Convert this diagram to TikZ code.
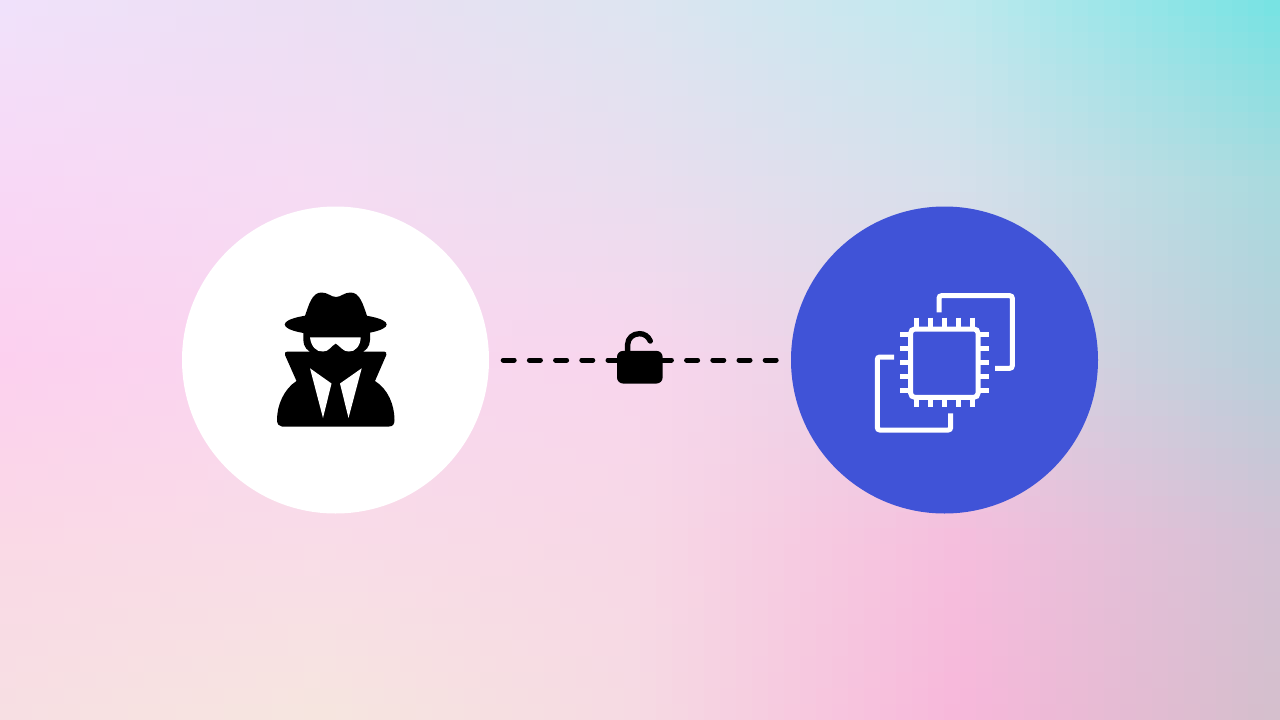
\documentclass[tikz,border=0pt]{standalone}
\usetikzlibrary{positioning}

% Background colours, sampled every 320 x 180 (column, row)
\definecolor{bg00}{HTML}{F0E2FB}
\definecolor{bg10}{HTML}{EBDFF3}
\definecolor{bg20}{HTML}{DDE5F1}
\definecolor{bg30}{HTML}{BEE9EE}
\definecolor{bg40}{HTML}{74E3E3}
\definecolor{bg01}{HTML}{F8D8F6}
\definecolor{bg11}{HTML}{F5DCF3}
\definecolor{bg21}{HTML}{E9DEEF}
\definecolor{bg31}{HTML}{D5E0EB}
\definecolor{bg41}{HTML}{A8DADE}
\definecolor{bg02}{HTML}{FCD0EF}
\definecolor{bg12}{HTML}{F9D7F0}
\definecolor{bg22}{HTML}{F8D6ED}
\definecolor{bg32}{HTML}{E3D2E3}
\definecolor{bg42}{HTML}{B8CFDA}
\definecolor{bg03}{HTML}{FAD9E6}
\definecolor{bg13}{HTML}{F9DCE8}
\definecolor{bg23}{HTML}{F7D8E6}
\definecolor{bg33}{HTML}{F5BEDD}
\definecolor{bg43}{HTML}{D3C1D4}
\definecolor{bg04}{HTML}{F7DFE3}
\definecolor{bg14}{HTML}{F6E6DF}
\definecolor{bg24}{HTML}{F6DAE3}
\definecolor{bg34}{HTML}{F7B7DA}
\definecolor{bg44}{HTML}{D4BFCC}
\definecolor{instanceblue}{HTML}{4053D7}

\tikzset{
	party/.style={draw=none, circle, minimum size=307pt, inner sep=0pt},
	dashline/.style={line width=5pt, line cap=round, dash pattern=on 11pt off 15.2pt},
	chipline/.style={draw=white, line width=5pt, rounded corners=2.5pt},
	pinline/.style={draw=white, line width=5pt},
	shackle/.style={draw=black, line width=5.4pt, line cap=round},
	lockbody/.style={fill=black, rectangle, rounded corners=6pt, minimum width=45.6pt, minimum height=32.6pt, inner sep=0pt},
}

\begin{document}
\begin{tikzpicture}[x=1pt, y=-1pt]
	\useasboundingbox (0,0) rectangle (1280,720);

	% Background
	\foreach \i in {0,...,79} {
		\foreach \j in {0,...,44} {
			\pgfmathtruncatemacro{\colA}{floor(\i/20)}
			\pgfmathtruncatemacro{\colB}{\colA+1}
			\pgfmathtruncatemacro{\rowA}{floor(\j/11.25)}
			\pgfmathtruncatemacro{\rowB}{\rowA+1}
			\pgfmathsetmacro{\pctX}{100-(\i+0.5-20*\colA)*5}
			\pgfmathsetmacro{\pctY}{100-(\j+0.5-11.25*\rowA)/11.25*100}
			\colorlet{mixtop}{bg\colA\rowA!\pctX!bg\colB\rowA}
			\colorlet{mixbot}{bg\colA\rowB!\pctX!bg\colB\rowB}
			\fill[mixtop!\pctY!mixbot] (\i*16,\j*16) rectangle ++(16.6,16.6);
		}
	}

	% Attacker and instance
	\node[party, fill=white] (attacker) at (335.5,360) {};
	\node[party, fill=instanceblue] (instance) at (944.5,360) {};

	% Open connection
	\draw[dashline] ([xshift=14pt]attacker.east) -- ([xshift=-13.7pt]instance.west);

	% Unlocked padlock
	\node[lockbody] (lock) at (639.8,367.2) {};
	\draw[shackle] (lock.north west) ++(10.8,3) -- ++(0,-9) .. controls (627.8,338) and (633,333.7) .. (639.5,333.7) .. controls (644,333.7) and (648,336) .. (650.3,341);

	% Spy hat
	\fill[black] (335.7,324.5) ellipse [x radius=51, y radius=11];
	\fill[black] (304,319) .. controls (309,304) and (312,292.5) .. (321.5,292.5) .. controls (328,292.5) and (331,297) .. (336,297) .. controls (341,297) and (344,292.5) .. (350.5,292.5) .. controls (360,292.5) and (363,304) .. (368,319) -- cycle;

	% Spy face
	\fill[black] (303.3,330) -- (303.3,340) .. controls (303.3,346) and (307,352) .. (315,354) -- (358,354) .. controls (366,352) and (370,346) .. (370,340) -- (370,330) -- cycle;
	\fill[white] (310,337.3) -- (360.7,337.3) .. controls (360.5,346) and (355,352) .. (348.5,351.7) .. controls (343,351.5) and (340,346) .. (335.7,343.5) .. controls (331,346) and (329,351.5) .. (323,351.7) .. controls (316,352) and (311,346) .. (310,337.3) -- cycle;

	% Spy coat
	\fill[black] (287.5,351.5) -- (384,351.5) .. controls (386,351.5) and (387,353) .. (386.3,355) -- (375,381) .. controls (388,389) and (394.5,405) .. (394.5,420) .. controls (394.5,424) and (393,426.5) .. (389,426.5) -- (282,426.5) .. controls (279,426.5) and (277,424) .. (277,420) .. controls (277,405) and (284,389) .. (296.5,381) -- (285,355) .. controls (284.3,353) and (285.5,351.5) .. (287.5,351.5) -- cycle;
	\fill[white] (310,368.3) -- (331.5,383.5) -- (323,418) -- cycle;
	\fill[white] (361.7,368.3) -- (340,383.5) -- (348.5,418) -- cycle;

	% Chip
	\draw[chipline, rounded corners=4pt] (910.7,329) rectangle (978,397.3);
	\foreach \pinx in {916.7,930.2,944.3,958.3,972.7} {
		\draw[pinline] (\pinx,317.7) -- (\pinx,330);
		\draw[pinline] (\pinx,397) -- (\pinx,406.7);
	}
	\foreach \piny in {334.3,348.3,362.3,376.7,390.7} {
		\draw[pinline] (900,\piny) -- (911,\piny);
		\draw[pinline] (978,\piny) -- (989.3,\piny);
	}

	% Copies behind the chip
	\draw[chipline] (939,312.3) -- (939,295.7) -- (1012.3,295.7) -- (1012.3,368.3) -- (995,368.3);
	\draw[chipline] (894,357) -- (877.3,357) -- (877.3,430) -- (950.7,430) -- (950.7,413.3);
\end{tikzpicture}
\end{document}
